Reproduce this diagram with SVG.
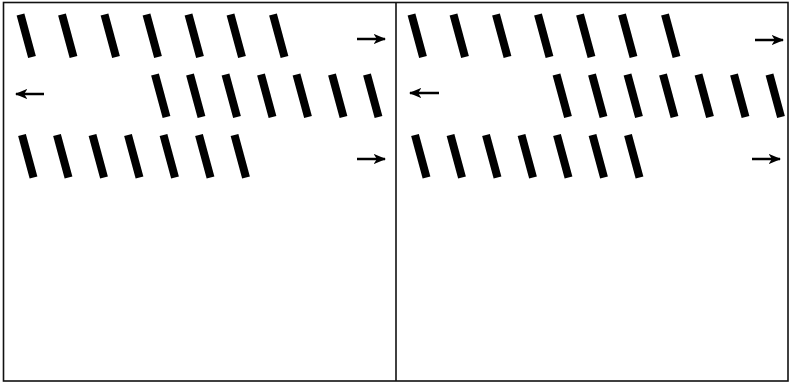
<svg xmlns="http://www.w3.org/2000/svg" width="790" height="383" viewBox="0 0 790 383">
<defs>
<style>
.frame{fill:none;stroke:#111;stroke-width:1.6}
.bar{stroke:#000;stroke-width:8;stroke-linecap:butt}
.arr{stroke:#000;stroke-width:2.5;fill:none}
</style>
<marker id="ah" viewBox="0 0 10 8" refX="9" refY="4" markerWidth="5" markerHeight="4" markerUnits="strokeWidth" orient="auto">
<path d="M0,0 L10,4 L0,8 L2.5,4 Z" fill="#000"/>
</marker>
<path id="b" class="bar" d="M0,-0.5 L11.5,42"/>
</defs>
<rect width="790" height="383" fill="#fff"/>
<g id="frames">
<rect class="frame" x="3.5" y="2.5" width="784.5" height="378.5"/>
<line class="frame" x1="396" y1="2.5" x2="396" y2="381"/>
</g>
<g id="left-panel">
<g id="L-row1">
<use href="#b" x="20.5" y="15"/><use href="#b" x="62" y="15"/><use href="#b" x="104.5" y="15"/><use href="#b" x="146.5" y="15"/><use href="#b" x="188.5" y="15"/><use href="#b" x="230.5" y="15"/><use href="#b" x="273" y="15"/>
</g>
<g id="L-row2">
<use href="#b" x="155" y="75"/><use href="#b" x="190" y="75"/><use href="#b" x="225.5" y="75"/><use href="#b" x="261" y="75"/><use href="#b" x="296.5" y="75"/><use href="#b" x="332" y="75"/><use href="#b" x="367" y="75"/>
</g>
<g id="L-row3">
<use href="#b" x="22" y="135.5"/><use href="#b" x="57" y="135.5"/><use href="#b" x="92.5" y="135.5"/><use href="#b" x="128" y="135.5"/><use href="#b" x="163.5" y="135.5"/><use href="#b" x="199" y="135.5"/><use href="#b" x="234.5" y="135.5"/>
</g>
</g>
<g id="right-panel">
<g id="R-row1">
<use href="#b" x="411.5" y="15"/><use href="#b" x="453.5" y="15"/><use href="#b" x="496" y="15"/><use href="#b" x="538" y="15"/><use href="#b" x="580" y="15"/><use href="#b" x="622" y="15"/><use href="#b" x="665" y="15"/>
</g>
<g id="R-row2">
<use href="#b" x="556.5" y="75"/><use href="#b" x="592" y="75"/><use href="#b" x="627.5" y="75"/><use href="#b" x="663" y="75"/><use href="#b" x="698.5" y="75"/><use href="#b" x="734" y="75"/><use href="#b" x="769.5" y="75"/>
</g>
<g id="R-row3">
<use href="#b" x="415" y="135.5"/><use href="#b" x="450.5" y="135.5"/><use href="#b" x="486" y="135.5"/><use href="#b" x="521.5" y="135.5"/><use href="#b" x="557" y="135.5"/><use href="#b" x="592.5" y="135.5"/><use href="#b" x="628" y="135.5"/>
</g>
</g>
<g id="arrows">
<line class="arr" x1="357" y1="39" x2="385" y2="39" marker-end="url(#ah)"/>
<line class="arr" x1="44" y1="94" x2="16" y2="94" marker-end="url(#ah)"/>
<line class="arr" x1="357" y1="159" x2="385" y2="159" marker-end="url(#ah)"/>
<line class="arr" x1="755" y1="40" x2="783" y2="40" marker-end="url(#ah)"/>
<line class="arr" x1="439" y1="93" x2="410" y2="93" marker-end="url(#ah)"/>
<line class="arr" x1="752" y1="159" x2="780" y2="159" marker-end="url(#ah)"/>
</g>
</svg>
